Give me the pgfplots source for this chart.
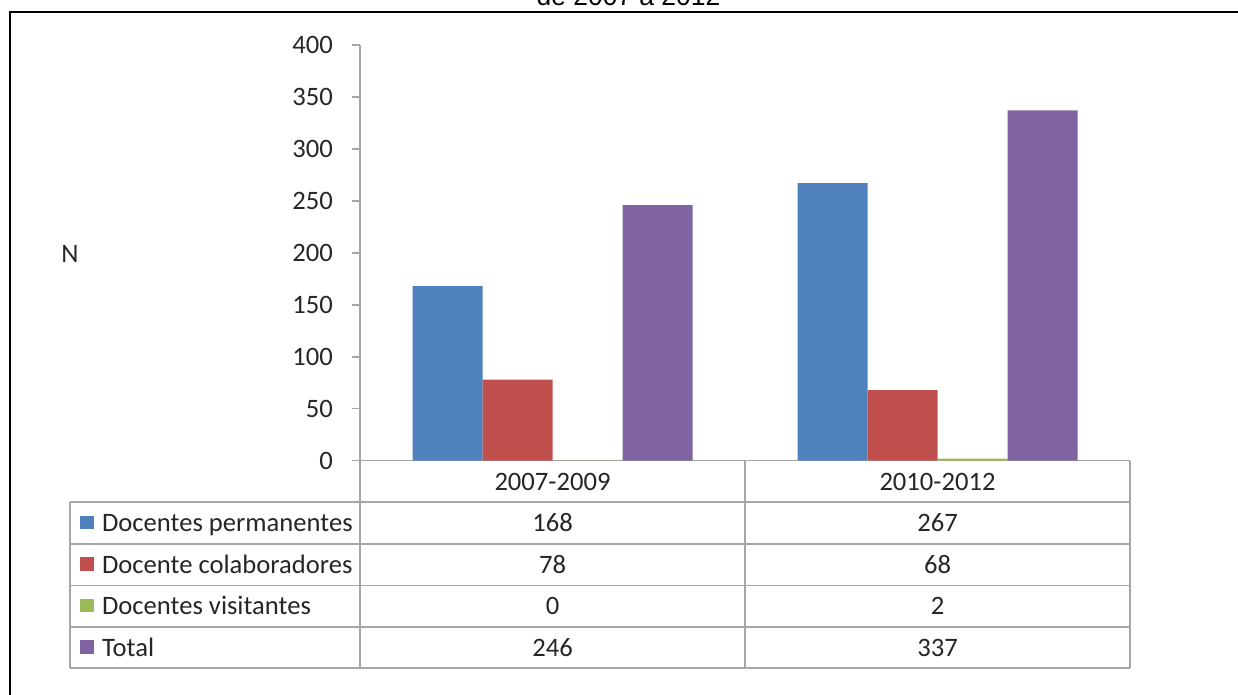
\documentclass[border=0pt]{standalone}
\usepackage{fontspec}
\setmainfont{Carlito}
\newfontfamily\arialfont{Liberation Sans}
\usepackage{pgfplots}
\pgfplotsset{compat=1.18}
\definecolor{cBlue}{HTML}{4F81BD}
\definecolor{cRed}{HTML}{C0504D}
\definecolor{cGreen}{HTML}{9BBB59}
\definecolor{cPurple}{HTML}{8064A2}
\definecolor{gridc}{HTML}{A6A6A6}
\definecolor{txt}{HTML}{262626}

\begin{document}
\fontsize{13.3}{16}\selectfont
\begin{tikzpicture}
\useasboundingbox (0,0) rectangle (619pt,-347.5pt);
\begin{axis}[
  at={(180pt,-230.35pt)}, anchor=south west,
  scale only axis, width=385pt, height=207.85pt,
  xmin=-0.5, xmax=1.5, ymin=0, ymax=400,
  ytick={0,50,...,400}, xtick=\empty,
  axis x line*=bottom, axis y line*=left,
  axis line style={draw=gridc, line width=0.75pt, -},
  y tick style={draw=gridc, line width=0.75pt},
  tick align=outside, major tick length=4pt,
  ybar=0pt, bar width=35pt,
  yticklabel style={font=\fontsize{13.3}{16}\selectfont, text=txt, xshift=-5pt},
  /pgf/number format/assume math mode=true,
  clip=false,
]
\addplot[fill=cBlue, draw=none] coordinates {(0,168) (1,267)};
\addplot[fill=cRed, draw=none] coordinates {(0,78) (1,68)};
\addplot[fill=cGreen, draw=none] coordinates {(0,0) (1,2)};
\addplot[fill=cPurple, draw=none] coordinates {(0,246) (1,337)};
\end{axis}
\begin{scope}[x=0.5pt,y=-0.5pt]
  % outer frame
  \draw[line width=1pt, black] (10,720) -- (10,12) -- (1260,12);
  % title (cut off at top, as in the reference)
  \node[anchor=base, inner sep=0, font=\arialfont\fontsize{13.2}{16}\selectfont, text=black] at (628.5,6) {de 2007 a 2012};
  % y label
  \node[anchor=base, inner sep=0, text=txt] at (70,263) {N};
  % table lines
  \begin{scope}[draw=gridc, line width=0.75pt]
    \draw (360,460.7) -- (360,668);
    \draw (745,460.7) -- (745,668);
    \draw (1130,460.7) -- (1130,668);
    \draw (70,502) -- (70,668);
    \foreach \yy in {502,544,585.5,627,668} {\draw (70,\yy) -- (1130,\yy);}
  \end{scope}
  % header
  \node[anchor=base, inner sep=0, text=txt] at (552.5,490) {2007-2009};
  \node[anchor=base, inner sep=0, text=txt] at (937.5,490) {2010-2012};
  % rows
  \fill[cBlue]   (80,515.7) rectangle (94,529.3);
  \fill[cRed]    (80,557.2) rectangle (94,570.8);
  \fill[cGreen]  (80,598.7) rectangle (94,612.3);
  \fill[cPurple] (80,640.2) rectangle (94,653.8);
  \node[anchor=base west, inner sep=0, text=txt] at (101.7,531.5) {Docentes permanentes};
  \node[anchor=base west, inner sep=0, text=txt] at (101.7,573) {Docente colaboradores};
  \node[anchor=base west, inner sep=0, text=txt] at (101.7,614.5) {Docentes visitantes};
  \node[anchor=base west, inner sep=0, text=txt] at (101.7,656) {Total};
  \node[anchor=base, inner sep=0, text=txt] at (552.5,531.5) {168};
  \node[anchor=base, inner sep=0, text=txt] at (937.5,531.5) {267};
  \node[anchor=base, inner sep=0, text=txt] at (552.5,573) {78};
  \node[anchor=base, inner sep=0, text=txt] at (937.5,573) {68};
  \node[anchor=base, inner sep=0, text=txt] at (552.5,614.5) {0};
  \node[anchor=base, inner sep=0, text=txt] at (937.5,614.5) {2};
  \node[anchor=base, inner sep=0, text=txt] at (552.5,656) {246};
  \node[anchor=base, inner sep=0, text=txt] at (937.5,656) {337};
\end{scope}
\end{tikzpicture}
\end{document}
